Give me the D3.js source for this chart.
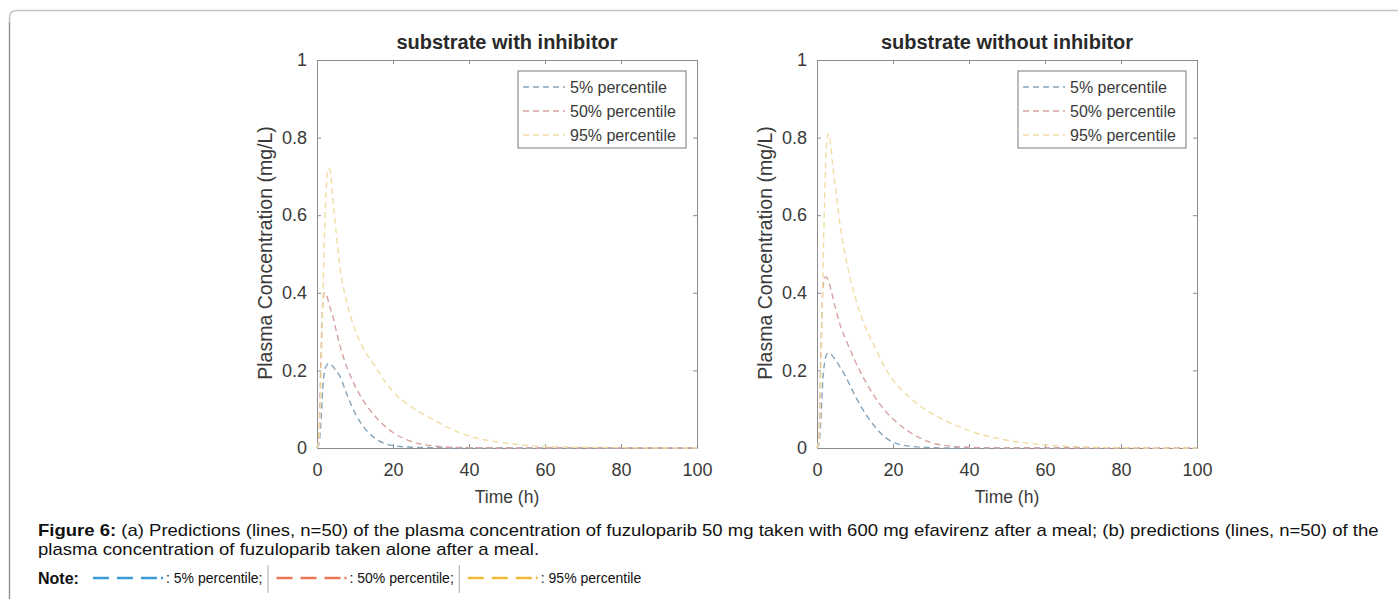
<!DOCTYPE html>
<html>
<head>
<meta charset="utf-8">
<script src="https://cdn.jsdelivr.net/npm/d3@7"></script>
<style>
  body { margin: 0; background: #fff; }
  svg { display: block; font-family: "Liberation Sans", Arial, sans-serif; }
</style>
</head>
<body>
<svg id="fig" width="1398" height="599"></svg>
<script>
// sampled time points (h)
const times = [0, 0.5, 1, 1.5, 2, 2.5, 3, 3.5, 4, 5, 6, 8, 10, 12, 15, 18, 20, 25, 30, 35, 40, 50, 60, 70, 80, 90, 100];

// (a) substrate with inhibitor
const withP5  = [0, 0.01, 0.06, 0.15, 0.20, 0.212, 0.218, 0.216, 0.212, 0.20, 0.185, 0.135, 0.09, 0.058, 0.027, 0.011, 0.006, 0.002, 0.001, 0, 0, 0, 0, 0, 0, 0, 0];
const withP50 = [0, 0.03, 0.22, 0.37, 0.40, 0.395, 0.378, 0.36, 0.345, 0.305, 0.265, 0.205, 0.16, 0.125, 0.085, 0.055, 0.04, 0.016, 0.006, 0.002, 0.001, 0, 0, 0, 0, 0, 0];
const withP95 = [0, 0.02, 0.15, 0.36, 0.56, 0.68, 0.72, 0.715, 0.66, 0.56, 0.47, 0.37, 0.305, 0.26, 0.215, 0.17, 0.145, 0.105, 0.076, 0.05, 0.031, 0.012, 0.004, 0.002, 0.001, 0, 0];

// (b) substrate without inhibitor
const aloneP5  = [0, 0.01, 0.07, 0.17, 0.22, 0.24, 0.245, 0.243, 0.238, 0.225, 0.21, 0.175, 0.135, 0.1, 0.058, 0.027, 0.015, 0.004, 0.001, 0, 0, 0, 0, 0, 0, 0, 0];
const aloneP50 = [0, 0.03, 0.24, 0.40, 0.44, 0.44, 0.43, 0.415, 0.395, 0.355, 0.32, 0.27, 0.225, 0.185, 0.135, 0.095, 0.075, 0.037, 0.014, 0.005, 0.002, 0, 0, 0, 0, 0, 0];
const aloneP95 = [0, 0.02, 0.18, 0.42, 0.64, 0.78, 0.81, 0.79, 0.74, 0.66, 0.58, 0.47, 0.39, 0.33, 0.265, 0.205, 0.175, 0.125, 0.09, 0.065, 0.045, 0.02, 0.008, 0.003, 0.001, 0, 0];

const seriesNames = ["5% percentile", "50% percentile", "95% percentile"];
const xTicks = [0, 20, 40, 60, 80, 100];
const yTicks = [0, 0.2, 0.4, 0.6, 0.8, 1];

const panels = [
  { title: "substrate with inhibitor", series: [withP5, withP50, withP95], left: 317 },
  { title: "substrate without inhibitor", series: [aloneP5, aloneP50, aloneP95], left: 817 }
];

// faded plot colours and bright note colours
const lineColors = ["#86a4ba", "#d6a3a0", "#f1dda4"];
const noteColors = ["#3d9ad8", "#ea7a55", "#f2b93a"];

const svg = d3.select("#fig");
svg.append("rect").attr("width", 1398).attr("height", 599).attr("fill", "#fff");

// outer frame (top + left with rounded corner)
svg.append("path")
  .attr("d", "M1398,10.5 L17,10.5 Q9.5,10.5 9.5,18 L9.5,599")
  .attr("fill", "none").attr("stroke", "#c4c4c4").attr("stroke-width", 1.6);
svg.append("path")
  .attr("d", "M9.5,22 L9.5,599")
  .attr("fill", "none").attr("stroke", "#8a8a8a").attr("stroke-width", 1);

const size = { width: 380, height: 388, top: 60 };
const axisColor = "#8d8d8d";
const textColor = "#3a3a3a";

panels.forEach(p => {
  const g = svg.append("g").attr("transform", "translate(" + p.left + "," + size.top + ")");

  const x = d3.scaleLinear().domain([0, 100]).range([0, size.width]);
  const y = d3.scaleLinear().domain([0, 1]).range([size.height, 0]);

  // box axes, ticks pointing inward
  const styleAxis = sel => {
    sel.selectAll(".domain").attr("stroke", axisColor);
    sel.selectAll(".tick line").attr("stroke", axisColor);
    sel.selectAll("text").attr("fill", textColor).style("font-size", "18px")
      .style("font-family", "'Liberation Sans', Arial, sans-serif");
  };

  g.append("g").attr("transform", "translate(0," + size.height + ")")
    .call(d3.axisBottom(x).tickValues(xTicks).tickSizeInner(-4).tickSizeOuter(0).tickPadding(15).tickFormat(d3.format("d")))
    .call(styleAxis);
  g.append("g")
    .call(d3.axisTop(x).tickValues(xTicks).tickSizeInner(-4).tickSizeOuter(0).tickFormat(""))
    .call(styleAxis);
  g.append("g")
    .call(d3.axisLeft(y).tickValues(yTicks).tickSizeInner(-4).tickSizeOuter(0).tickPadding(10).tickFormat(d => d === 0 || d === 1 ? d3.format("d")(d) : d3.format(".1f")(d)))
    .call(styleAxis);
  g.append("g").attr("transform", "translate(" + size.width + ",0)")
    .call(d3.axisRight(y).tickValues(yTicks).tickSizeInner(-4).tickSizeOuter(0).tickFormat(""))
    .call(styleAxis);

  const line = d3.line()
    .x((d, i) => x(times[i]))
    .y(d => y(d))
    .curve(d3.curveMonotoneX);

  p.series.forEach((vals, k) => {
    g.append("path")
      .datum(vals)
      .attr("d", line)
      .attr("fill", "none")
      .attr("stroke", lineColors[k])
      .attr("stroke-width", 1.4)
      .attr("stroke-dasharray", "6,4");
  });

  // title
  g.append("text")
    .attr("x", size.width / 2).attr("y", -11)
    .attr("text-anchor", "middle")
    .attr("font-weight", "bold").attr("font-size", 20).attr("fill", "#2a2a2a")
    .text(p.title);

  // axis labels
  g.append("text")
    .attr("x", size.width / 2).attr("y", size.height + 55)
    .attr("text-anchor", "middle").attr("font-size", 17.5).attr("fill", textColor)
    .text("Time (h)");
  g.append("text")
    .attr("transform", "translate(-45," + (size.height / 2 - 1) + ") rotate(-90)")
    .attr("text-anchor", "middle").attr("font-size", 19.5).attr("fill", textColor)
    .text("Plasma Concentration (mg/L)");

  // legend
  const lg = g.append("g").attr("transform", "translate(201,11)");
  lg.append("rect").attr("width", 168).attr("height", 77)
    .attr("fill", "#fff").attr("stroke", "#7a7a7a").attr("stroke-width", 1);
  seriesNames.forEach((name, k) => {
    const yy = 16 + k * 24;
    lg.append("line").attr("x1", 5).attr("x2", 47).attr("y1", yy).attr("y2", yy)
      .attr("stroke", lineColors[k]).attr("stroke-width", 1.4).attr("stroke-dasharray", "6,4");
    lg.append("text").attr("x", 52).attr("y", yy + 5.5)
      .attr("font-size", 16).attr("fill", textColor).text(name);
  });
});

// caption: glyphs widened horizontally so line 1 spans the page as in the figure
const cap = svg.append("g").attr("font-size", 16).attr("fill", "#111");
const l1 = cap.append("text").attr("x", 38).attr("y", 536);
l1.append("tspan").attr("font-weight", "bold").text("Figure 6:");
l1.append("tspan").text(" (a) Predictions (lines, n=50) of the plasma concentration of fuzuloparib 50 mg taken with 600 mg efavirenz after a meal; (b) predictions (lines, n=50) of the");
cap.append("text").attr("x", 38).attr("y", 555)
  .text("plasma concentration of fuzuloparib taken alone after a meal.");
const sx = 1341 / l1.node().getComputedTextLength();
cap.attr("transform", "translate(38,0) scale(" + sx + ",1) translate(-38,0)");

// note line with dash samples
const note = svg.append("g").attr("font-size", 14).attr("fill", "#111");
note.append("text").attr("x", 38).attr("y", 584).attr("font-weight", "bold").attr("font-size", 16).text("Note:");
const noteLabels = [": 5% percentile;", ": 50% percentile;", ": 95% percentile"];
let nx = 93;
noteLabels.forEach((lab, k) => {
  note.append("path")
    .attr("d", "M" + nx + ",578 h16 m8,0 h16 m8,0 h16 m4,0 h2")
    .attr("stroke", noteColors[k]).attr("stroke-width", 2.4).attr("fill", "none");
  const t = note.append("text").attr("x", nx + 73).attr("y", 583).text(lab);
  const end = nx + 73 + t.node().getComputedTextLength();
  if (k < 2) {
    note.append("line").attr("x1", end + 5.5).attr("x2", end + 5.5).attr("y1", 565).attr("y2", 593)
      .attr("stroke", "#aaa").attr("stroke-width", 1);
  }
  nx = end + 14;
});
</script>
</body>
</html>
